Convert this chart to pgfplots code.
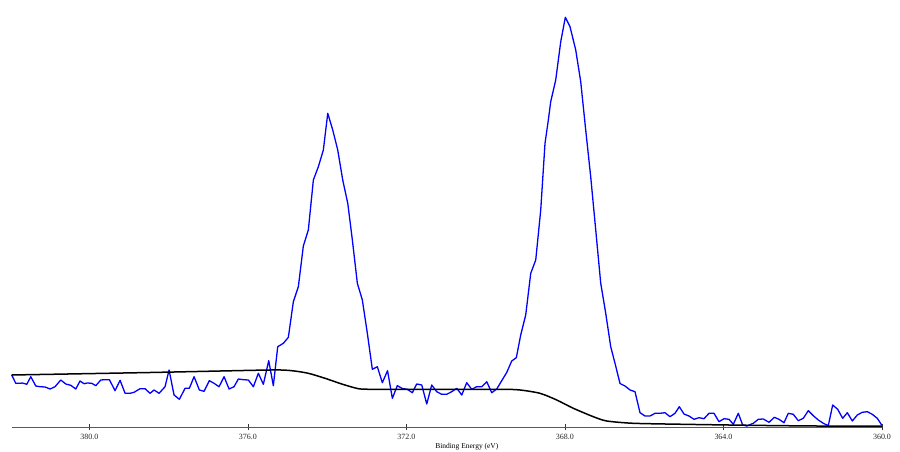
\documentclass[border=0pt]{standalone}
\usepackage{pgfplots}
\pgfplotsset{compat=1.18}
\usepackage{fontspec}
\setmainfont{Liberation Serif}
\definecolor{specblue}{RGB}{0,0,255}
\begin{document}
\begin{tikzpicture}
\path[use as bounding box] (-11.7bp,-25bp) rectangle (888.3bp,427bp);
\begin{axis}[
  scale only axis, width=870.3bp, height=427bp,
  xmin=360, xmax=381.96, ymin=0, ymax=427,
  x dir=reverse,
  axis x line=bottom, axis y line=none,
  x axis line style={-, draw=black!65, line width=0.8bp},
  xtick={360,364,...,380},
  xticklabel={\pgfmathprintnumber[fixed,fixed zerofill,precision=1,assume math mode=true]{\tick}},
  xticklabel style={font=\fontsize{8}{9}\selectfont, text=black!85},
  tick align=center, major tick length=6.5bp,
  tick style={black!80, line width=0.6bp},
  xlabel={Binding Energy (eV)},
  xlabel style={font=\fontsize{7.5}{9}\selectfont, at={(axis description cs:0.523,0)}, anchor=center, yshift=-19.7bp},
  clip=false,
]
\addplot[specblue, line width=1.3bp, line join=round] coordinates {
(381.96,52) (381.857,43.7) (381.748,43.7) (381.690,44) (381.579,42.7) (381.478,50.3)
(381.352,41) (381.244,40.3) (381.118,40) (380.991,38) (380.865,40.3) (380.722,47)
(380.595,43) (380.469,41.7) (380.343,38) (380.235,46) (380.134,43.3) (380.050,44)
(379.939,43.7) (379.838,41.3) (379.712,47) (379.604,47.3) (379.495,47.3) (379.352,36.3)
(379.225,46.7) (379.099,33.7) (378.973,33.7) (378.872,34.7) (378.721,38.3) (378.595,38.3)
(378.468,33.7) (378.368,37) (378.241,33.7) (378.090,40.3) (377.989,57) (377.863,32)
(377.729,27.7) (377.585,38.7) (377.477,38.7) (377.358,50.3) (377.225,37) (377.106,35.7)
(376.972,46.3) (376.854,43.7) (376.728,40.3) (376.601,50.3) (376.475,38) (376.349,40.3)
(376.241,48) (376.114,47.3) (375.988,47) (375.862,40.3) (375.736,53.7) (375.610,42.7)
(375.474,66.3) (375.358,41.3) (375.247,80.3) (375.105,83.7) (374.979,89.7) (374.853,125.3)
(374.727,140.3) (374.601,181) (374.475,197) (374.348,247) (374.222,260.3) (374.096,277)
(373.985,313.7) (373.859,297) (373.733,277) (373.607,247) (373.480,223.7) (373.364,187)
(373.238,143.7) (373.112,127) (372.986,93.7) (372.860,57.7) (372.734,60.3) (372.608,44.3)
(372.476,56.3) (372.355,28.7) (372.229,41.3) (372.103,38.5) (371.977,37.7) (371.851,34.3)
(371.740,43) (371.613,42) (371.487,23) (371.361,42) (371.235,35.3) (371.109,32.7)
(370.983,32.7) (370.857,35.3) (370.730,38.7) (370.604,32) (370.478,44.3) (370.352,37.7)
(370.226,40.3) (370.100,40.3) (369.973,45.3) (369.847,34.3) (369.721,38) (369.595,46.3)
(369.469,54.5) (369.343,66) (369.227,69.3) (369.116,92) (368.990,112) (368.863,153.7)
(368.737,167) (368.611,217) (368.503,283.7) (368.419,307) (368.359,325.3) (368.233,347)
(368.106,385.3) (367.990,409.7) (367.872,400.3) (367.728,377) (367.602,345.3) (367.476,297)
(367.350,250.3) (367.223,197) (367.097,143.7) (366.971,113.7) (366.845,80.3) (366.737,63.7)
(366.610,43.5) (366.484,41) (366.358,37) (366.232,35.3) (366.106,14.3) (365.980,11)
(365.853,11) (365.727,13.7) (365.601,13.7) (365.475,14.3) (365.349,10.3) (365.223,13.7)
(365.114,20.3) (364.996,13) (364.870,11) (364.743,7.7) (364.617,9.3) (364.491,8.3)
(364.365,13.7) (364.239,13.7) (364.113,5.3) (363.986,8.3) (363.860,7.7) (363.752,2.7)
(363.626,13.7) (363.515,2) (363.414,1) (363.247,3.7) (363.121,7.7) (362.995,8)
(362.851,4.7) (362.717,9.7) (362.599,7.7) (362.473,4.3) (362.364,13.7) (362.238,12.7)
(362.112,6.3) (361.986,8.7) (361.860,16.3) (361.733,11.3) (361.607,7) (361.481,3.7)
(361.355,1.3) (361.244,22) (361.118,17.7) (360.992,8.7) (360.875,14.3) (360.749,6)
(360.623,12) (360.497,14.7) (360.371,15.3) (360.245,12.7) (360.119,8.7) (360.008,2)
};
\addplot[black, line width=1.5bp, smooth, tension=0.4] coordinates {
(381.96,52) (378.468,54.5) (375.441,57) (374.893,56.3) (374.475,53.7) (374.053,48.7)
(373.632,43) (373.213,38.3) (372.875,37.7) (372.035,37.7) (369.638,37.7) (369.133,37)
(368.629,33.7) (368.207,27) (367.788,18.7) (367.284,10.3) (366.946,6) (366.275,3.7)
(365.013,2.7) (363.331,1.7) (361.648,1) (360.0,1)
};
\end{axis}
\end{tikzpicture}
\end{document}
